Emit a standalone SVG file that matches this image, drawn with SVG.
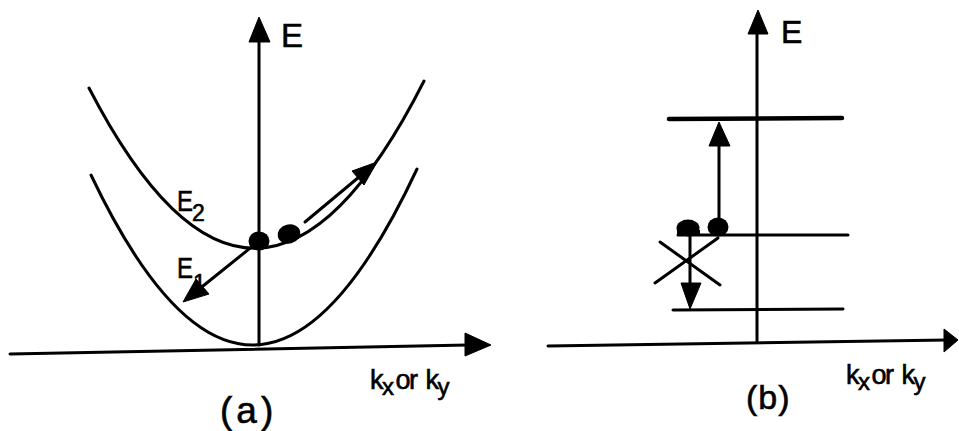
<svg xmlns="http://www.w3.org/2000/svg" width="959" height="431" viewBox="0 0 959 431">
<style>
.ln{stroke:#000;fill:none;stroke-width:3;stroke-linecap:round}
.lv{stroke:#000;fill:none;stroke-width:4.5;stroke-linecap:round}
.hd{fill:#000;stroke:#000;stroke-width:1;stroke-linejoin:round}
.dot{fill:#000}
.t{font-family:"Liberation Sans",Arial,sans-serif;fill:#000;stroke:#000;stroke-width:0.6}
</style>
<rect width="959" height="431" fill="#fff"/>
<!-- Panel (a) -->
<g id="axes-a">
  <line class="ln" x1="10" y1="354" x2="468" y2="345"/>
  <polygon class="hd" points="491,345 465,333 465,356"/>
  <line class="ln" x1="259" y1="345" x2="259" y2="40"/>
  <polygon class="hd" points="259,17 249,42 270,42"/>
  <text class="t" x="281" y="47" font-size="33">E</text>
  <text class="t" x="370" y="389" font-size="27" letter-spacing="-1.5">k<tspan font-size="24" dy="6">x</tspan><tspan dy="-6" dx="3">or</tspan><tspan dx="9">k</tspan><tspan font-size="24" dy="6">y</tspan></text>
  <text class="t" x="220" y="423" font-size="37" letter-spacing="4">(a)</text>
</g>
<g id="band-E2">
  <path class="ln" d="M89,88 Q256.5,412 424,81"/>
  <text class="t" x="177" y="211" font-size="30" transform="translate(177 211) scale(0.8 1) translate(-177 -211)">E</text>
  <text class="t" x="192" y="221" font-size="23">2</text>
</g>
<g id="band-E1">
  <path class="ln" d="M91,175 Q254,518 417,169"/>
  <text class="t" x="177" y="278" font-size="30" transform="translate(177 278) scale(0.8 1) translate(-177 -278)">E</text>
  <text class="t" x="193" y="291" font-size="23">1</text>
</g>
<g id="electrons-a">
  <ellipse class="dot" cx="259" cy="241" rx="10.5" ry="9.5"/>
  <ellipse class="dot" cx="289" cy="234" rx="11.5" ry="9.5" transform="rotate(-15 289 234)"/>
</g>
<!-- Panel (b) -->
<g id="axes-b">
  <line class="ln" x1="548" y1="346" x2="947" y2="340"/>
  <polygon class="hd" points="958,340 944,329 944,352"/>
  <line class="ln" x1="757" y1="342" x2="757" y2="30"/>
  <polygon class="hd" points="758,10 748,34 768,34"/>
  <text class="t" x="781" y="43" font-size="32">E</text>
  <text class="t" x="846" y="384" font-size="27" letter-spacing="-1.5">k<tspan font-size="24" dy="6">x</tspan><tspan dy="-6" dx="3">or</tspan><tspan dx="9">k</tspan><tspan font-size="24" dy="6">y</tspan></text>
  <text class="t" x="746" y="409" font-size="34" letter-spacing="1">(b)</text>
</g>
<g id="level-top">
  <line class="lv" x1="669" y1="119" x2="842" y2="118"/>
</g>
<g id="level-mid">
  <line class="ln" x1="678" y1="235" x2="848" y2="235" stroke-width="3.5"/>
</g>
<g id="level-bottom">
  <line class="ln" x1="673" y1="310" x2="843" y2="309"/>
</g>
<g id="electrons-b">
  <ellipse class="dot" cx="688" cy="228" rx="11.5" ry="8.5"/>
  <rect class="dot" x="677" y="230" width="23" height="5"/>
  <ellipse class="dot" cx="718" cy="227" rx="10.5" ry="9.5"/>
</g>
<g id="connectors">
  <line class="ln" x1="305" y1="222" x2="359" y2="177" stroke-width="4.5"/>
  <polygon class="hd" points="377,162 352,171 364,185"/>
  <line class="ln" x1="259" y1="241" x2="203" y2="286" stroke-width="3.5"/>
  <polygon class="hd" points="183,302 196,279 209,294"/>
  <line class="ln" x1="719" y1="222" x2="719" y2="144" stroke-width="3.5"/>
  <polygon class="hd" points="719,122 709,146 730,146"/>
  <line class="ln" x1="690" y1="235" x2="690" y2="286" stroke-width="3.5"/>
  <polygon class="hd" points="690,309 681,283 701,283"/>
  <line class="ln" x1="655" y1="283" x2="718" y2="238" stroke-width="3.5"/>
  <line class="ln" x1="660" y1="242" x2="720" y2="285" stroke-width="3.5"/>
</g>
</svg>
